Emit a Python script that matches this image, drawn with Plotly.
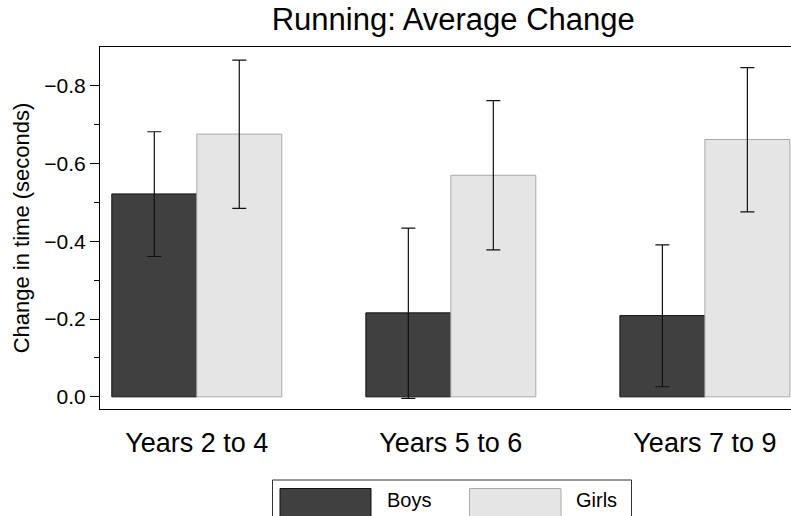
import plotly.graph_objects as go

# Group labels and series values (change in time, seconds)
periods = ["Years 2 to 4", "Years 5 to 6", "Years 7 to 9"]
boys_mean = [-0.522, -0.216, -0.209]
boys_ci_low = [-0.682, -0.434, -0.391]
boys_ci_high = [-0.361, 0.004, -0.026]
girls_mean = [-0.676, -0.570, -0.662]
girls_ci_low = [-0.866, -0.762, -0.847]
girls_ci_high = [-0.485, -0.378, -0.476]

y_ticks = [0.0, -0.2, -0.4, -0.6, -0.8]
y_minor = [-0.1, -0.3, -0.5, -0.7]

W, H = 791, 516
ML, MR, MT, MB = 100, 0, 47, 107
PW, PH = W - ML - MR, H - MT - MB


def px_x(px):
    return (px - ML) / PW


def px_y(py):
    return (H - MB - py) / PH


def err(mean, low, high):
    plus = [h - m for m, h in zip(mean, high)]
    minus = [m - l for m, l in zip(mean, low)]
    return dict(type="data", symmetric=False, array=plus, arrayminus=minus,
                color="#111111", thickness=1.2, width=7)


fig = go.Figure()
fig.add_trace(go.Bar(
    x=periods, y=boys_mean, name="Boys",
    marker=dict(color="#404040", line=dict(color="#111111", width=1)),
    error_y=err(boys_mean, boys_ci_low, boys_ci_high),
))
fig.add_trace(go.Bar(
    x=periods, y=girls_mean, name="Girls",
    marker=dict(color="#e5e5e5", line=dict(color="#aaaaaa", width=1)),
    error_y=err(girls_mean, girls_ci_low, girls_ci_high),
))

font = "Liberation Sans, Arial, Helvetica, sans-serif"

# Legend drawn as a framed key below the plot
shapes = [
    dict(type="rect", xref="paper", yref="paper",
         x0=px_x(272.5), x1=px_x(631.5), y0=px_y(480), y1=px_y(540),
         line=dict(color="#333333", width=1), fillcolor="white", layer="above"),
    dict(type="rect", xref="paper", yref="paper",
         x0=px_x(280), x1=px_x(371), y0=px_y(488.5), y1=px_y(530),
         line=dict(color="#111111", width=1), fillcolor="#404040", layer="above"),
    dict(type="rect", xref="paper", yref="paper",
         x0=px_x(469.5), x1=px_x(561), y0=px_y(488.5), y1=px_y(530),
         line=dict(color="#aaaaaa", width=1), fillcolor="#e5e5e5", layer="above"),
]
annotations = [
    dict(text="Boys", xref="paper", yref="paper", x=px_x(385), y=px_y(500),
         xanchor="left", yanchor="middle", showarrow=False,
         font=dict(size=20, color="black", family=font)),
    dict(text="Girls", xref="paper", yref="paper", x=px_x(574), y=px_y(500),
         xanchor="left", yanchor="middle", showarrow=False,
         font=dict(size=20, color="black", family=font)),
]

fig.update_layout(
    width=W, height=H,
    margin=dict(l=ML, r=MR, t=MT, b=MB, autoexpand=False),
    paper_bgcolor="white", plot_bgcolor="white",
    font=dict(family=font, color="black"),
    barmode="group", bargap=0.331, bargroupgap=0,
    showlegend=False,
    title=dict(text="Running: Average Change", x=0.573, xref="container",
               xanchor="center", y=0.962, yref="container", yanchor="middle",
               font=dict(size=31, color="black", family=font)),
    xaxis=dict(
        range=[-0.381, 2.339], showline=True, linecolor="black", linewidth=1,
        mirror=True, ticks="", showgrid=False, zeroline=False,
        ticklabelstandoff=10, tickfont=dict(size=27, color="black"),
    ),
    yaxis=dict(
        range=[0.0313, -0.9], showline=True, linecolor="black", linewidth=1,
        mirror=False, showgrid=False, zeroline=False,
        tickvals=y_ticks, tickformat=".1f", ticks="outside", ticklen=9,
        tickcolor="black", tickwidth=1,
        minor=dict(tickvals=y_minor, ticks="outside", ticklen=5,
                   tickcolor="black", tickwidth=1, showgrid=False),
        tickfont=dict(size=21, color="black"),
        title=dict(text="Change in time (seconds)", standoff=8,
                   font=dict(size=22, color="black")),
    ),
    shapes=shapes, annotations=annotations,
)

fig.write_html("out.html")
